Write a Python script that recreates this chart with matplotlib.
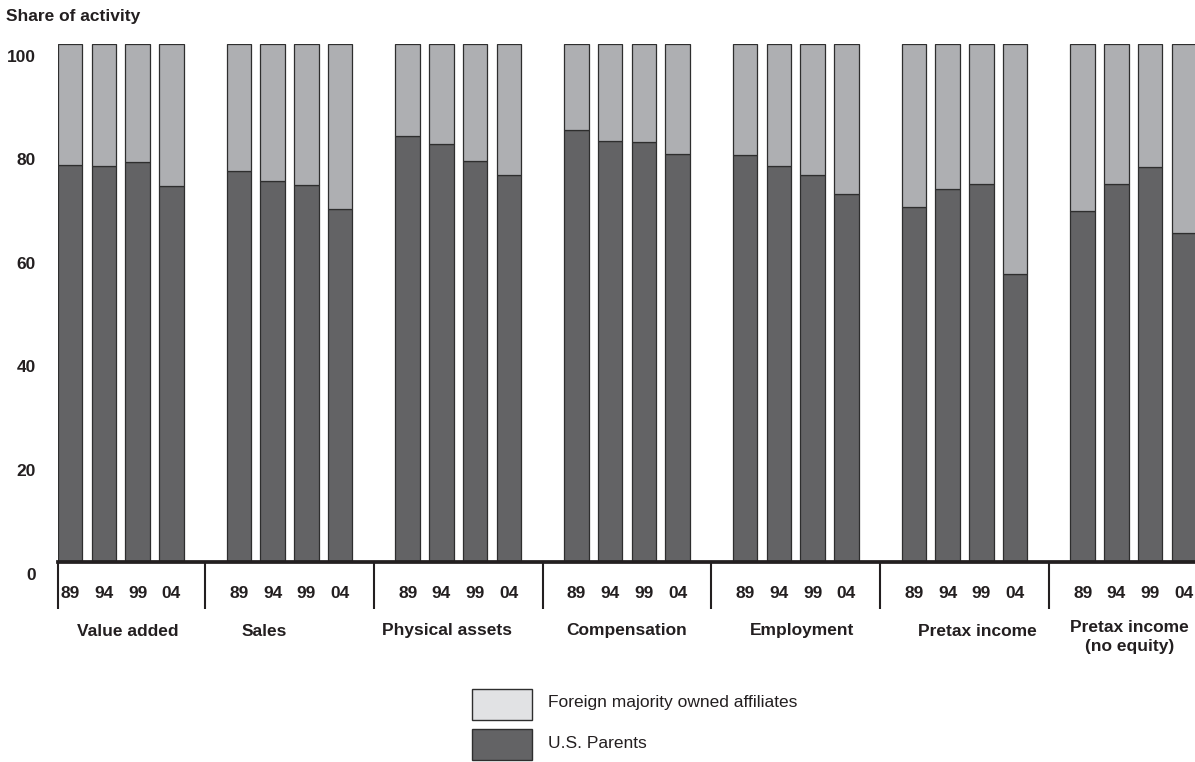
import numpy as np
import matplotlib
matplotlib.use("Agg")
import matplotlib.pyplot as plt
from matplotlib.patches import Rectangle
from matplotlib.transforms import ScaledTranslation, blended_transform_factory

plt.rcParams['font.family'] = ['Liberation Sans', 'DejaVu Sans']

# data (share of activity, %)
years = ["89", "94", "99", "04"]
categories = ["Value added", "Sales", "Physical assets", "Compensation",
              "Employment", "Pretax income", "Pretax income\n(no equity)"]
value_added = [76.6, 76.4, 77.2, 72.6]
sales = [75.5, 73.5, 72.8, 68.1]
physical_assets = [82.3, 80.7, 77.4, 74.8]
compensation = [83.4, 81.3, 81.1, 78.8]
employment = [78.6, 76.4, 74.8, 71.0]
pretax_income = [68.6, 72.1, 73.0, 55.6]
pretax_no_equity = [67.8, 73.0, 76.2, 63.5]
y_ticks = [0, 20, 40, 60, 80, 100]

parents = np.array([value_added, sales, physical_assets, compensation,
                    employment, pretax_income, pretax_no_equity])
foreign = 100 - parents

# styling
dark = "#636365"
light = "#aeafb2"
legend_light = "#e1e2e4"
edge = "#2e2e2e"
txt = "#231f20"
fs = 12.5
label_shift = [0.21, -0.74, -0.33, 0.0, 0.2, 0.37, -0.1]

fig = plt.figure(figsize=(11.95, 7.62), dpi=100)
W, H = 1195, 762
ax = fig.add_axes([58 / W, (H - 562) / H, (W - 58) / W, 518 / H])

n_cat, n_yr = parents.shape
x = (np.arange(n_cat)[:, None] * (n_yr + 1) + np.arange(n_yr)[None, :])
bw = 0.726

ax.bar(x.ravel(), parents.ravel(), width=bw, color=dark, edgecolor=edge, linewidth=0.9)
ax.bar(x.ravel(), foreign.ravel(), width=bw, bottom=parents.ravel(), color=light,
       edgecolor=edge, linewidth=0.9)

ax.set_xlim(-bw / 2, 33.33)
ax.set_ylim(0, 100)
for s in ax.spines.values():
    s.set_visible(False)
ax.set_xticks([])
ax.set_yticks([])
ax.axhline(0, color=txt, lw=2.7, clip_on=False, zorder=5)

# y labels sit a little below their gridline values in the original
trans_y = ax.get_yaxis_transform() + ScaledTranslation(0, -0.13, fig.dpi_scale_trans)
for t in y_ticks:
    ax.text(-0.0193, t, str(t), transform=trans_y, ha="right", va="center",
            fontsize=fs, fontweight="bold", color=txt)

trans_x = blended_transform_factory(ax.transData, ax.transAxes)
# group separators below the axis
seps = [-bw / 2] + [(n_yr + 1) * i - 1 for i in range(1, n_cat)]
for sx in seps:
    ax.plot([sx, sx], [0, -47 / 518], transform=trans_x, color=txt, lw=1.5,
            clip_on=False, solid_capstyle="butt")

for i, cat in enumerate(categories):
    for j, yr in enumerate(years):
        ax.text(x[i, j], -32 / 518, yr, transform=trans_x, ha="center", va="center",
                fontsize=fs, fontweight="bold", color=txt)
    yc = -75 / 518 if "\n" in cat else -69 / 518
    ax.text(x[i].mean() + label_shift[i], yc, cat, transform=trans_x, ha="center",
            va="center", fontsize=fs, fontweight="bold", color=txt, linespacing=1.4)

fig.text(6 / W, 1 - 16 / H, "Share of activity", ha="left", va="center",
         fontsize=fs, fontweight="bold", color=txt)

# legend
legend_items = [("Foreign majority owned affiliates", legend_light, 689),
                ("U.S. Parents", dark, 729)]
for label, col, top in legend_items:
    fig.add_artist(Rectangle((472 / W, (H - top - 31) / H), 60 / W, 31 / H,
                             transform=fig.transFigure, facecolor=col,
                             edgecolor=edge, linewidth=1.0))
    fig.text(548 / W, 1 - (top + 14) / H, label, ha="left", va="center",
             fontsize=fs, color=txt)

fig.savefig("out.png", dpi=100)
